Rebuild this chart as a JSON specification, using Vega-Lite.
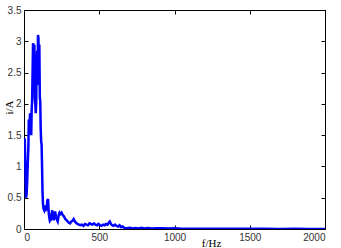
{
  "$schema": "https://vega.github.io/schema/vega-lite/v6.json",
  "width": 301,
  "height": 219,
  "autosize": {"type": "none"},
  "padding": {"left": 24, "top": 10, "right": 16, "bottom": 19},
  "background": "white",
  "config": {
    "view": {"stroke": "black", "strokeWidth": 1},
    "axis": {
      "grid": false,
      "domainColor": "black",
      "tickColor": "black",
      "labelFont": "Liberation Sans",
      "labelFontSize": 10,
      "labelColor": "#333333",
      "titleFont": "Liberation Serif",
      "titleFontSize": 11,
      "titleFontWeight": "normal",
      "titleColor": "black"
    }
  },
  "data": {
    "values": [
      {"f": 5, "i": 1.45}, {"f": 9, "i": 1.0}, {"f": 13, "i": 0.5}, {"f": 17, "i": 0.55},
      {"f": 21, "i": 0.75}, {"f": 25, "i": 1.05}, {"f": 29, "i": 1.3}, {"f": 32, "i": 1.75},
      {"f": 36, "i": 1.6}, {"f": 40, "i": 1.85}, {"f": 44, "i": 1.75}, {"f": 48, "i": 1.5},
      {"f": 51, "i": 1.9}, {"f": 54, "i": 2.05}, {"f": 57, "i": 2.5}, {"f": 60, "i": 2.97},
      {"f": 63, "i": 2.9}, {"f": 66, "i": 2.6}, {"f": 69, "i": 2.95}, {"f": 72, "i": 2.1},
      {"f": 75, "i": 2.0}, {"f": 78, "i": 1.85}, {"f": 81, "i": 2.0}, {"f": 84, "i": 2.6},
      {"f": 87, "i": 2.85}, {"f": 90, "i": 2.3}, {"f": 93, "i": 3.1}, {"f": 96, "i": 3.05},
      {"f": 99, "i": 2.6}, {"f": 102, "i": 2.95}, {"f": 105, "i": 2.1}, {"f": 108, "i": 2.05},
      {"f": 111, "i": 1.6}, {"f": 114, "i": 1.4}, {"f": 117, "i": 1.35}, {"f": 120, "i": 1.0},
      {"f": 123, "i": 0.6}, {"f": 126, "i": 0.4}, {"f": 130, "i": 0.32}, {"f": 134, "i": 0.3},
      {"f": 138, "i": 0.35}, {"f": 142, "i": 0.28}, {"f": 146, "i": 0.38}, {"f": 150, "i": 0.3},
      {"f": 155, "i": 0.45}, {"f": 160, "i": 0.48}, {"f": 163, "i": 0.3}, {"f": 167, "i": 0.2},
      {"f": 172, "i": 0.13}, {"f": 178, "i": 0.15}, {"f": 184, "i": 0.25}, {"f": 188, "i": 0.3},
      {"f": 192, "i": 0.18}, {"f": 197, "i": 0.14}, {"f": 202, "i": 0.2}, {"f": 207, "i": 0.28},
      {"f": 212, "i": 0.2}, {"f": 218, "i": 0.15}, {"f": 224, "i": 0.12}, {"f": 230, "i": 0.22},
      {"f": 236, "i": 0.26}, {"f": 242, "i": 0.24}, {"f": 250, "i": 0.26}, {"f": 258, "i": 0.22},
      {"f": 266, "i": 0.2}, {"f": 274, "i": 0.16}, {"f": 282, "i": 0.14}, {"f": 290, "i": 0.12},
      {"f": 298, "i": 0.1}, {"f": 306, "i": 0.09}, {"f": 315, "i": 0.12}, {"f": 322, "i": 0.13},
      {"f": 330, "i": 0.16}, {"f": 338, "i": 0.12}, {"f": 346, "i": 0.1}, {"f": 355, "i": 0.08},
      {"f": 365, "i": 0.07}, {"f": 375, "i": 0.06}, {"f": 385, "i": 0.07}, {"f": 395, "i": 0.05},
      {"f": 405, "i": 0.08}, {"f": 415, "i": 0.07}, {"f": 425, "i": 0.06}, {"f": 435, "i": 0.09},
      {"f": 445, "i": 0.08}, {"f": 455, "i": 0.07}, {"f": 465, "i": 0.09}, {"f": 475, "i": 0.07},
      {"f": 485, "i": 0.06}, {"f": 495, "i": 0.08}, {"f": 505, "i": 0.06}, {"f": 515, "i": 0.05},
      {"f": 525, "i": 0.07}, {"f": 535, "i": 0.06}, {"f": 545, "i": 0.08}, {"f": 555, "i": 0.07},
      {"f": 563, "i": 0.1}, {"f": 570, "i": 0.12}, {"f": 578, "i": 0.08}, {"f": 586, "i": 0.06},
      {"f": 595, "i": 0.05}, {"f": 605, "i": 0.07}, {"f": 615, "i": 0.05}, {"f": 625, "i": 0.04},
      {"f": 635, "i": 0.06}, {"f": 645, "i": 0.03}, {"f": 655, "i": 0.04}, {"f": 665, "i": 0.02},
      {"f": 675, "i": 0.01}, {"f": 690, "i": 0.015}, {"f": 705, "i": 0.02}, {"f": 720, "i": 0.01},
      {"f": 740, "i": 0.015}, {"f": 760, "i": 0.01}, {"f": 780, "i": 0.02}, {"f": 800, "i": 0.01},
      {"f": 820, "i": 0.015}, {"f": 850, "i": 0.008}, {"f": 880, "i": 0.012}, {"f": 920, "i": 0.01},
      {"f": 960, "i": 0.008}, {"f": 1000, "i": 0.012}, {"f": 1050, "i": 0.006}, {"f": 1100, "i": 0.005},
      {"f": 1200, "i": 0.004}, {"f": 1300, "i": 0.005}, {"f": 1400, "i": 0.003}, {"f": 1500, "i": 0.004},
      {"f": 1600, "i": 0.003}, {"f": 1700, "i": 0.002}, {"f": 1800, "i": 0.003}, {"f": 1900, "i": 0.002},
      {"f": 2000, "i": 0.002}
    ]
  },
  "layer": [
    {
      "mark": {"type": "line", "color": "#0000ff", "strokeWidth": 2.5, "clip": true},
      "encoding": {
        "x": {
          "field": "f", "type": "quantitative",
          "scale": {"domain": [0, 2000], "nice": false},
          "axis": {
            "orient": "bottom", "values": [0, 500, 1000, 1500, 2000], "format": "d",
            "title": "f/Hz", "tickSize": -4, "labelPadding": 7,
            "titleX": 187, "titleY": 17, "titleAlign": "center", "titleBaseline": "alphabetic"
          }
        },
        "y": {
          "field": "i", "type": "quantitative",
          "scale": {"domain": [0, 3.5], "nice": false},
          "axis": {
            "orient": "left", "values": [0, 0.5, 1, 1.5, 2, 2.5, 3, 3.5], "format": "~g",
            "title": "i/A", "tickSize": -4, "labelPadding": 7,
            "titleX": -15, "titleY": 97, "titleAngle": -90, "titleAlign": "center", "titleBaseline": "middle"
          }
        }
      }
    },
    {
      "mark": {"type": "line", "strokeOpacity": 0},
      "encoding": {
        "x": {
          "field": "f", "type": "quantitative",
          "scale": {"domain": [0, 2000], "nice": false},
          "axis": {"orient": "top", "values": [0, 500, 1000, 1500, 2000], "labels": false, "title": null, "tickSize": -4}
        },
        "y": {
          "field": "i", "type": "quantitative",
          "scale": {"domain": [0, 3.5], "nice": false},
          "axis": {"orient": "right", "values": [0, 0.5, 1, 1.5, 2, 2.5, 3, 3.5], "labels": false, "title": null, "tickSize": -4}
        }
      }
    }
  ],
  "resolve": {"axis": {"x": "independent", "y": "independent"}}
}
